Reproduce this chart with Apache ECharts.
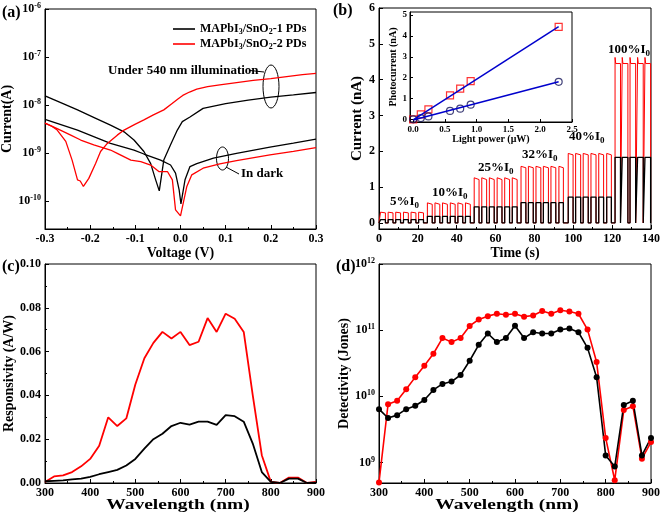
<!DOCTYPE html>
<html><head><meta charset="utf-8">
<script src="https://cdn.jsdelivr.net/npm/echarts@6/dist/echarts.min.js"></script>
<style>html,body{margin:0;padding:0;background:#fff}#c{width:661px;height:516px}</style>
</head><body><div id="c"></div>
<script>
// ---------- (a) I-V curves ----------
const voltBlackLight = [-0.3,-0.26,-0.228,-0.19,-0.155,-0.125,-0.103,-0.081,-0.066,-0.055,-0.047,-0.037,-0.022,-0.007,0.004,0.021,0.05,0.1,0.15,0.2,0.25,0.3];
const curBlackLight  = [1.55e-8,1.07e-8,7.9e-9,5.4e-9,3.8e-9,2.75e-9,1.86e-9,1.07e-9,6.0e-10,2.75e-10,1.62e-10,7.1e-10,1.48e-9,3.0e-9,4.5e-9,5.6e-9,8.5e-9,1.07e-8,1.26e-8,1.45e-8,1.62e-8,1.82e-8];
const voltRedLight = [-0.3,-0.285,-0.273,-0.254,-0.24,-0.228,-0.222,-0.215,-0.203,-0.188,-0.177,-0.162,-0.14,-0.125,-0.1,-0.081,-0.06,-0.037,-0.02,-0.005,0.005,0.02,0.036,0.06,0.087,0.12,0.161,0.2,0.235,0.27,0.3];
const curRedLight  = [4.2e-9,3.6e-9,3.0e-9,1.74e-9,7.1e-10,2.75e-10,2.6e-10,2.0e-10,2.95e-10,6.0e-10,1.07e-9,1.58e-9,2.35e-9,3.0e-9,4.0e-9,4.9e-9,6.2e-9,7.9e-9,1.05e-8,1.35e-8,1.58e-8,1.86e-8,2.14e-8,2.4e-8,2.63e-8,2.9e-8,3.24e-8,3.55e-8,3.9e-8,4.27e-8,4.57e-8];
const voltBlackDark = [-0.3,-0.228,-0.155,-0.103,-0.081,-0.044,-0.022,-0.011,-0.003,0.001,0.01,0.021,0.036,0.073,0.124,0.198,0.25,0.3];
const curBlackDark  = [5.0e-9,3.0e-9,1.58e-9,1.15e-9,9.5e-10,7.1e-10,5.6e-10,3.8e-10,1.7e-10,8.7e-11,2.75e-10,5.2e-10,6.0e-10,7.8e-10,9.8e-10,1.32e-9,1.6e-9,1.95e-9];
const voltRedDark = [-0.3,-0.273,-0.243,-0.221,-0.192,-0.155,-0.14,-0.11,-0.088,-0.066,-0.048,-0.029,-0.018,-0.011,0.0,0.014,0.025,0.05,0.087,0.124,0.198,0.25,0.3];
const curRedDark  = [4.2e-9,3.2e-9,2.35e-9,1.86e-9,1.48e-9,1.15e-9,9.8e-10,7.1e-10,6.6e-10,5.6e-10,4.1e-10,4.1e-10,2.75e-10,6.5e-11,4.9e-11,2.0e-10,3.5e-10,4.8e-10,5.9e-10,6.9e-10,9.1e-10,1.08e-9,1.29e-9];
const logTicksA = [1e-10,1e-9,1e-8,1e-7,1e-6];

// ---------- (b) transient photocurrent ----------
const pulseOn  = [0.8,4.7,8.6,12.6,16.5,20.4, 24.9,28.8,32.7,36.7,40.6,44.5, 49.0,52.9,56.8,60.8,64.7,68.6, 73.1,76.9,80.8,84.6,88.5,92.6, 97.4,101.2,105.1,109.1,113.1,117.2, 121.5,125.2,129.2,133.1,136.9];
const pulseOff = [3.3,7.2,11.1,15.1,19.0,22.9, 27.4,31.3,35.2,39.2,43.1,47.0, 51.5,55.4,59.3,63.3,67.2,71.1, 75.6,79.4,83.3,87.2,91.0,94.9, 99.9,103.8,107.7,111.7,115.6,119.6, 124.3,128.1,132.1,136.0,139.8];
const pulsesPerStage = [6,6,6,6,6,5];
const stageLabels = ['5%','10%','25%','32%','40%','100%'];
const redPeak  = [0.30,0.56,1.26,1.58,1.94,4.62];
const redLevel = [0.28,0.52,1.21,1.54,1.90,4.45];
const blackLevel = [0.09,0.185,0.45,0.565,0.72,1.83];
const ticksB = [0,1,2,3,4,5,6];
// inset
const lightPower = [0,0.12,0.24,0.58,0.74,0.905,2.29];
const photoRed   = [0,0.24,0.48,1.15,1.47,1.83,4.44];
const photoBlack = [0,0.06,0.14,0.40,0.51,0.70,1.80];
const fitPower = [0,2.29];
const fitRed   = [-0.03,4.45];
const fitBlack = [-0.03,1.80];
const insetXTicks = [0,0.5,1,1.5,2,2.5];
const insetYTicks = [0,1,2,3,4,5];

// ---------- (c),(d) spectra ----------
const wavelength = [300,320,340,360,380,400,420,440,460,480,500,520,540,560,580,600,620,640,660,680,700,720,740,760,780,800,820,840,860,880,900];
const respRed   = [0.0005,0.003,0.0035,0.005,0.0076,0.011,0.017,0.030,0.026,0.0295,0.045,0.057,0.064,0.069,0.066,0.069,0.063,0.0645,0.0753,0.069,0.0773,0.075,0.069,0.040,0.0127,0.0005,0,0.0025,0.0025,0,0.0005];
const respBlack = [0.0008,0.001,0.0012,0.0017,0.002,0.0028,0.004,0.005,0.006,0.008,0.011,0.0157,0.020,0.0225,0.026,0.0275,0.0267,0.028,0.028,0.0265,0.031,0.0305,0.028,0.018,0.005,0.0005,0,0.002,0.002,0,0.0002];
const detRed   = [5.0e8,7.6e9,8.6e9,1.28e10,1.95e10,2.9e10,4.4e10,7.6e10,6.6e10,7.6e10,1.16e11,1.45e11,1.63e11,1.77e11,1.71e11,1.77e11,1.6e11,1.67e11,1.95e11,1.77e11,2.0e11,1.92e11,1.77e11,1.02e11,3.3e10,2.35e9,5.4e8,6.2e9,7.1e9,1.14e9,2.04e9];
const detBlack = [6.4e9,4.7e9,5.2e9,6.4e9,7.2e9,8.8e9,1.25e10,1.54e10,1.67e10,2.1e10,3.45e10,6.0e10,8.9e10,6.6e10,7.6e10,1.17e11,7.6e10,9.3e10,8.9e10,8.9e10,1.02e11,1.06e11,9.3e10,5.4e10,1.95e10,1.28e9,8.7e8,7.4e9,8.6e9,1.28e9,2.35e9];
const logTicksD = [1e9,1e10,1e11,1e12];

const N1 = 'MAPbI3/SnO2-1 PDs', N2 = 'MAPbI3/SnO2-2 PDs';
const F = "'Liberation Serif','Times New Roman',serif";
const RED = '#ff0000', BLK = '#000000', BLUE = '#0000cc', NAVY = '#14145a';

function zip(xs, ys){ return xs.map((x,i)=>[x, ys[i]]); }

// build square-wave traces from the read pulse edges
const redPulse = [[0,0]], blackPulse = [[0,0]];
let k = 0;
pulsesPerStage.forEach((n, s) => {
  for (let j = 0; j < n; j++, k++) {
    const a = pulseOn[k], b = pulseOff[k];
    redPulse.push([a,0],[a,redPeak[s]],[a+0.35,redLevel[s]],[b,redLevel[s]],[b,0]);
    blackPulse.push([a,0],[a,blackLevel[s]],[b,blackLevel[s]],[b,0]);
  }
});
redPulse.push([140,0]); blackPulse.push([140,0]);

const supRich = {
  b:{fontFamily:F,fontWeight:'bold',fontSize:12,lineHeight:14,color:'#000'},
  s:{fontFamily:F,fontWeight:'bold',fontSize:8,lineHeight:8,verticalAlign:'top',color:'#000'}
};
function supLabel(v){ return '{b|10}{s|' + Math.round(Math.log10(v)) + '}'; }

function ax(o){
  const a = {
    gridIndex:o.g, type:o.type||'value', min:o.min, max:o.max,
    name:o.name, nameLocation:'middle', nameGap:o.nameGap,
    nameTextStyle:{fontFamily:F,fontWeight:'bold',fontSize:o.nameSize||14,color:'#000'},
    axisLine:{show:true,onZero:false,lineStyle:{color:'#000',width:1}},
    axisTick:{show:true,inside:true,length:o.tickLen||4,lineStyle:{color:'#000',width:1}},
    minorTick:{show:!!o.minor,splitNumber:2,length:2,lineStyle:{color:'#000',width:1}},
    splitLine:{show:false}, minorSplitLine:{show:false},
    axisLabel:{show:true,color:'#000',fontFamily:F,fontWeight:'bold',fontSize:o.labelSize||12,margin:o.margin||4,showMinLabel:true,showMaxLabel:true,hideOverlap:false}
  };
  if (o.interval !== undefined) a.interval = o.interval;
  if (o.type === 'log') a.logBase = 10;
  if (o.fmt) a.axisLabel.formatter = o.fmt;
  if (o.rich) a.axisLabel.rich = o.rich;
  if (o.ticks) { a.axisLabel.customValues = o.ticks; a.axisTick.customValues = o.ticks; }
  return a;
}

const gridBase = {show:true,borderColor:'#000',borderWidth:1,backgroundColor:'transparent',containLabel:false,outerBoundsMode:'none'};
const grids = [
  Object.assign({}, gridBase, {left:45, top:9, width:271, height:220}),
  Object.assign({}, gridBase, {left:379, top:8, width:272, height:221}),
  Object.assign({}, gridBase, {left:410, top:12, width:162, height:110, backgroundColor:'#fff'}),
  Object.assign({}, gridBase, {left:45, top:264, width:271, height:219}),
  Object.assign({}, gridBase, {left:379, top:264, width:272, height:219})
];

const xAxes = [
  ax({g:0,min:-0.3,max:0.3,interval:0.1,minor:true,name:'Voltage (V)',nameGap:14,fmt:v=>v.toFixed(1)}),
  ax({g:1,min:0,max:140,interval:20,minor:true,name:'Time (s)',nameGap:14}),
  ax({g:2,min:-0.05,max:2.5,ticks:insetXTicks,name:'Light power (\u03bcW)',nameGap:11,nameSize:10,labelSize:9,margin:3,tickLen:3,fmt:v=>v.toFixed(1)}),
  ax({g:3,min:300,max:900,interval:100,minor:true,fmt:v=>String(v)}),
  ax({g:4,min:300,max:900,interval:100,minor:true,fmt:v=>String(v)})
];
const yAxes = [
  ax({g:0,type:'log',min:2.6e-11,max:1e-6,ticks:logTicksA,name:'Current(A)',nameGap:26,fmt:supLabel,rich:supRich}),
  ax({g:1,min:-0.17,max:6,ticks:ticksB,name:'Current (nA)',nameGap:12,nameSize:15}),
  ax({g:2,min:-0.13,max:5.15,ticks:insetYTicks,name:'Photocurrent (nA)',nameGap:9,nameSize:10,labelSize:9,margin:3,tickLen:3}),
  ax({g:3,min:0,max:0.1,interval:0.02,minor:true,name:'Responsivity (A/W)',nameGap:26,fmt:v=>v.toFixed(2)}),
  ax({g:4,type:'log',min:4.9e8,max:1e12,ticks:logTicksD,name:'Detectivity (Jones)',nameGap:27,fmt:supLabel,rich:supRich})
];

function line(name, xi, data, color, width, extra){
  return Object.assign({type:'line', name:name, xAxisIndex:xi, yAxisIndex:xi, data:data, symbol:'none',
    lineStyle:{color:color,width:width}, itemStyle:{color:color}, animation:false, silent:true}, extra||{});
}

const series = [
  line(N1, 0, zip(voltBlackLight, curBlackLight), BLK, 1.3),
  line(N1, 0, zip(voltBlackDark, curBlackDark), BLK, 1.3),
  line(N2, 0, zip(voltRedLight, curRedLight), RED, 1.3),
  line(N2, 0, zip(voltRedDark, curRedDark), RED, 1.3),
  line('red pulse', 1, redPulse, RED, 1),
  line('black pulse', 1, blackPulse, BLK, 1.3),
  line('fit red', 2, zip(fitPower, fitRed), BLUE, 1.5),
  line('fit black', 2, zip(fitPower, fitBlack), BLUE, 1.5),
  {type:'scatter', xAxisIndex:2, yAxisIndex:2, data:zip(lightPower, photoRed), symbol:'rect', symbolSize:7,
   itemStyle:{color:'rgba(0,0,0,0)', borderColor:RED, borderWidth:1.2}, animation:false, silent:true},
  {type:'scatter', xAxisIndex:2, yAxisIndex:2, data:zip(lightPower, photoBlack), symbol:'circle', symbolSize:7,
   itemStyle:{color:'rgba(0,0,0,0)', borderColor:NAVY, borderWidth:1.2}, animation:false, silent:true},
  line('resp red', 3, zip(wavelength, respRed), RED, 1.8),
  line('resp black', 3, zip(wavelength, respBlack), BLK, 1.8),
  line('det red', 4, zip(wavelength, detRed), RED, 1.6, {symbol:'circle', symbolSize:6, showSymbol:true}),
  line('det black', 4, zip(wavelength, detBlack), BLK, 1.6, {symbol:'circle', symbolSize:6, showSymbol:true})
];

const subRich = {
  m:{fontFamily:F,fontWeight:'bold',fontSize:13,lineHeight:16,fill:'#000'},
  d:{fontFamily:F,fontWeight:'bold',fontSize:9,lineHeight:9,verticalAlign:'bottom',fill:'#000'}
};
const legRich = {
  m:{fontFamily:F,fontWeight:'bold',fontSize:12,lineHeight:14,color:'#000'},
  d:{fontFamily:F,fontWeight:'bold',fontSize:8,lineHeight:8,verticalAlign:'bottom',color:'#000'}
};

function txt(x, y, text, size, align){
  return {type:'text', x:x, y:y, silent:true, style:{text:text, fill:'#000', font:'bold '+size+'px '+F, textAlign:align||'left', textVerticalAlign:'middle'}};
}
function wideTxt(x, y, text){
  const t = txt(x, y, text, 15, 'center'); t.scaleX = 1.3; return t;
}
const stagePos = [[390,202],[432,193],[478,168],[522,155],[569,137],[608,50]];
const graphics = [
  txt(2,13,'(a)',16), txt(333,11,'(b)',16), txt(2,267,'(c)',16), txt(336,267,'(d)',16),
  wideTxt(178,505,'Wavelength (nm)'), wideTxt(507,505,'Wavelength (nm)'),
  txt(108,71,'Under 540 nm illumination',13),
  {type:'line', silent:true, shape:{x1:250,y1:70.5,x2:264,y2:72}, style:{stroke:'#000',lineWidth:1}},
  {type:'ellipse', silent:true, shape:{cx:271,cy:86.5,rx:8,ry:21.5}, style:{fill:'none',stroke:'#000',lineWidth:1}},
  {type:'ellipse', silent:true, shape:{cx:222.5,cy:158.5,rx:6,ry:11.5}, style:{fill:'none',stroke:'#000',lineWidth:1}},
  {type:'line', silent:true, shape:{x1:226,y1:167,x2:239,y2:174}, style:{stroke:'#000',lineWidth:1}},
  txt(241,174,'In dark',13)
].concat(stageLabels.map((s,i)=>({type:'text', x:stagePos[i][0], y:stagePos[i][1], silent:true,
  style:{text:'{m|'+s+'I}{d|0}', rich:subRich, textAlign:'left', textVerticalAlign:'middle', fill:'#000'}})));

const chart = echarts.init(document.getElementById('c'), null, {renderer:'canvas'});
chart.setOption({
  backgroundColor:'#fff',
  animation:false,
  textStyle:{fontFamily:F},
  grid:grids, xAxis:xAxes, yAxis:yAxes, series:series,
  legend:{data:[N1,N2], left:168, top:18, orient:'vertical', icon:'rect', itemWidth:22, itemHeight:1.6, itemGap:2,
    selectedMode:false, textStyle:{fontFamily:F,fontWeight:'bold',fontSize:12,color:'#000',rich:legRich},
    formatter:n => n===N1 ? '{m|MAPbI}{d|3}{m|/SnO}{d|2}{m|-1 PDs}' : '{m|MAPbI}{d|3}{m|/SnO}{d|2}{m|-2 PDs}'},
  graphic:graphics
});
</script></body></html>
